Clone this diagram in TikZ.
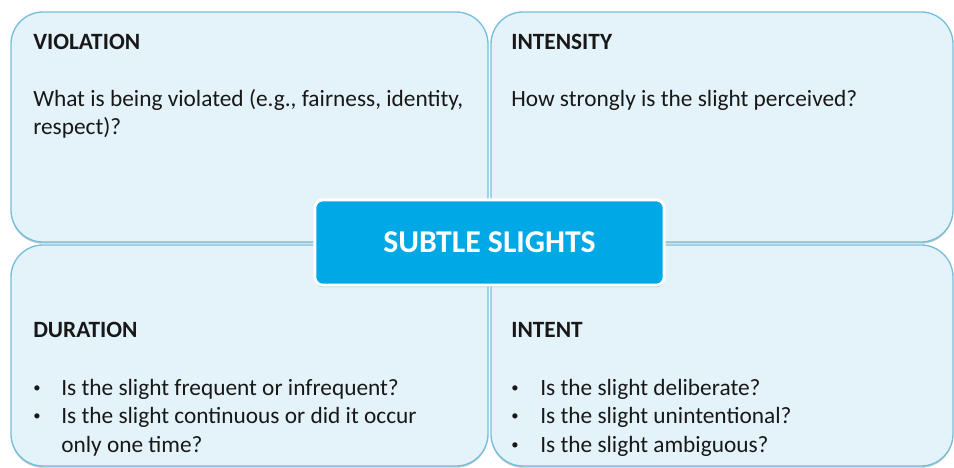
\documentclass[tikz,border=0pt]{standalone}
\usepackage{fontspec}
\setmainfont{Carlito}
\usetikzlibrary{positioning, shadows, fit}

\definecolor{quadfill}{RGB}{228,243,250}
\definecolor{quadline}{RGB}{118,190,222}
\definecolor{hubblue}{RGB}{0,169,229}
\definecolor{inkgray}{RGB}{24,24,24}

\newcommand{\dotmark}{\raisebox{0.25ex}{\fontsize{11}{11}\selectfont\textbullet}}

\begin{document}
\begin{tikzpicture}[x=0.75pt, y=-0.75pt,
    quad/.style={rectangle, rounded corners=24pt, draw=quadline, line width=1pt,
                 fill=quadfill, inner sep=0pt,
                 drop shadow={shadow xshift=0pt, shadow yshift=-1.3pt, opacity=0.4, fill=black!55}},
    hub/.style={rectangle, rounded corners=6pt, minimum width=262pt, minimum height=64pt,
                fill=hubblue, draw=white, line width=2.2pt, text=white,
                font=\fontsize{23.8}{27}\selectfont\bfseries,
                drop shadow={shadow xshift=0pt, shadow yshift=-1.5pt, opacity=0.45, fill=black!60}},
    heading/.style={anchor=base west, inner sep=0pt, text=inkgray,
                    font=\fontsize{17.5}{21.5}\selectfont\bfseries},
    body/.style={anchor=base west, inner sep=0pt, text=inkgray,
                 font=\fontsize{17.5}{21.5}\selectfont}]

    \useasboundingbox (0,0) rectangle (954,468);

    % Quadrants
    \node[quad, fit={(11,12) (488,242)}] (violation) {};
    \node[quad, fit={(491,12) (953,242)}] (intensity) {};
    \node[quad, fit={(11,245) (488,466)}] (duration) {};
    \node[quad, fit={(491,245) (953,466)}] (intent) {};

    % Headings
    \node[heading] (violhead) at (33,49.5) {VIOLATION};
    \node[heading] (intenhead) at (511,49.5) {INTENSITY};
    \node[heading] (durhead) at (33,337) {DURATION};
    \node[heading] (intenthead) at (511,337) {INTENT};

    % Texts
    \node[body] (violtext) at (33,106) {\parbox[t]{340pt}{What is being violated (e.g., fairness, identity,\\ respect)?}};
    \node[body] (inventext) at (511,106) {How strongly is the slight perceived?};
    \node[body] (durtext) at (33,395) {\begin{tabular}[t]{@{}p{21pt}@{}l@{}}
        \dotmark & Is the slight frequent or infrequent?\\
        \dotmark & Is the slight continuous or did it occur\\
                 & only one time?
      \end{tabular}};
    \node[body] (intenttext) at (511,395) {\begin{tabular}[t]{@{}p{21.75pt}@{}l@{}}
        \dotmark & Is the slight deliberate?\\
        \dotmark & Is the slight unintentional?\\
        \dotmark & Is the slight ambiguous?
      \end{tabular}};

    % Center
    \node[hub] (slights) at (489.5,242.5) {SUBTLE SLIGHTS};

\end{tikzpicture}
\end{document}
